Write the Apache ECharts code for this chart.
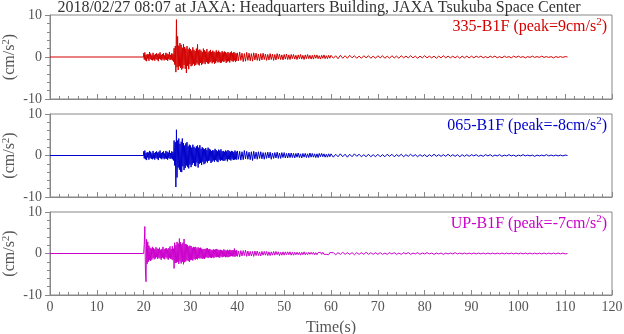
<!DOCTYPE html>
<html>
<head>
<meta charset="utf-8">
<script src="https://cdn.jsdelivr.net/npm/echarts@6/dist/echarts.min.js"></script>
<style>
  html, body { margin: 0; padding: 0; background: #fff; }
  #chart { width: 624px; height: 334px; }
</style>
</head>
<body>
<div id="chart"></div>
<script>
// Acceleration records, three components at the B1F sensor.
// Quiet until 20 s; then samples every 0.125 s (20-40 s),
// every 0.25 s (40-60 s) and every 0.5 s (60 s to the end).
const quietEnd = 20;
const fineStep = 0.125;
const midStart = 40, midStep = 0.25;
const coarseStart = 60, coarseStep = 0.5;

const trace335Fine = [
  0.9,-0.6,1.1,-0.8,0.5,-1.0,0.7,-0.4,
  0.6,-0.9,1.2,-0.5,0.8,-0.7,0.4,-0.8,
  1.0,-0.6,0.5,-0.9,0.7,-0.5,0.9,-0.7,
  0.6,-1.0,0.8,-0.4,1.1,-0.6,0.5,-0.8,
  0.7,-0.5,0.9,-0.8,0.4,-0.6,1.0,-0.7,
  0.8,-0.9,0.6,-0.5,1.2,-0.7,0.5,-0.6,
  0.9,-0.8,0.7,-1.1,2.1,-1.8,2.6,-3.6,
  8.9,-2.4,4.9,-3.1,2.7,-2.2,3.3,-2.6,
  2.9,-3.0,2.2,-2.7,3.1,-1.9,2.4,-2.8,
  2.0,-3.8,2.6,-2.1,1.8,-2.9,2.2,-1.7,
  1.9,-2.2,1.5,-2.0,2.3,-1.6,1.7,-2.1,
  1.4,-1.9,2.0,-1.5,3.0,-1.8,1.6,-2.0,
  1.8,-1.4,1.5,-1.9,1.2,-1.6,2.0,-1.3,
  1.6,-1.7,1.3,-1.2,1.9,-1.5,1.1,-1.6,
  1.4,-1.3,1.7,-1.1,1.2,-1.5,1.5,-1.2,
  1.3,-1.6,1.1,-1.4,1.6,-1.0,1.2,-1.3,
  1.5,-1.1,1.2,-1.4,1.0,-1.3,1.4,-1.0,
  1.1,-1.2,1.3,-0.9,1.2,-1.4,0.9,-1.1,
  1.2,-1.0,0.9,-1.3,1.1,-0.8,1.3,-1.0,
  0.9,-1.1,1.2,-0.8,1.0,-1.2,0.8,-0.9
];
const trace335Mid = [
  1.0,-0.9,1.2,-0.8, 0.9,-1.1,0.8,-1.0, 1.1,-0.8,0.9,-0.9, 0.8,-1.0,1.0,-0.7,
  0.9,-0.8,0.7,-0.9, 0.8,-0.7,0.9,-0.6, 0.7,-0.8,0.6,-0.7, 0.8,-0.6,0.7,-0.8,
  0.6,-0.7,0.8,-0.5, 0.7,-0.6,0.5,-0.7, 0.6,-0.5,0.7,-0.6, 0.5,-0.6,0.6,-0.4,
  0.6,-0.5,0.4,-0.6, 0.5,-0.4,0.6,-0.5, 0.4,-0.6,0.5,-0.4, 0.6,-0.4,0.4,-0.5,
  0.4,-0.5,0.5,-0.3, 0.5,-0.4,0.3,-0.5, 0.4,-0.3,0.5,-0.4, 0.3,-0.4,0.4,-0.3
];
const trace335Coarse = [
  0.4,-0.3,0.3,-0.4,0.4,-0.3,0.3,-0.3,0.4,-0.2,0.3,-0.3,0.2,-0.3,0.3,-0.2,0.3,-0.3,0.2,-0.3,
  0.3,-0.2,0.3,-0.3,0.2,-0.3,0.3,-0.2,0.2,-0.3,0.3,-0.2,0.2,-0.2,0.3,-0.2,0.2,-0.3,0.2,-0.2,
  0.3,-0.2,0.2,-0.2,0.2,-0.3,0.2,-0.2,0.3,-0.2,0.2,-0.2,0.2,-0.2,0.2,-0.3,0.2,-0.2,0.2,-0.2,
  0.2,-0.2,0.2,-0.1,0.2,-0.2,0.1,-0.2,0.2,-0.1,0.2,-0.2,0.1,-0.2,0.2,-0.1,0.1,-0.2,0.2,-0.1,
  0.2,-0.1,0.1,-0.2,0.1,-0.1,0.2,-0.1,0.1,-0.1,0.2,-0.1,0.1,-0.1,0.1,-0.2,0.1,-0.1,0.1,-0.1,0.1,0
];

const trace065Fine = [
  1.0,-0.7,1.2,-0.9,0.6,-1.1,0.8,-0.5,
  0.7,-1.0,1.1,-0.6,0.9,-0.8,0.5,-0.9,
  1.1,-0.7,0.6,-1.0,0.8,-0.6,1.0,-0.8,
  0.7,-1.1,0.9,-0.5,1.2,-0.7,0.6,-0.9,
  0.8,-0.6,1.0,-0.9,0.5,-0.7,1.1,-0.8,
  0.9,-1.0,0.7,-0.6,1.2,-0.8,0.6,-0.7,
  1.0,-0.9,0.8,-1.2,3.6,-2.4,3.2,-7.6,
  6.2,-5.3,3.6,-2.9,4.1,-3.4,2.8,-3.9,
  3.3,-4.0,4.1,-2.6,3.0,-3.5,2.4,-3.0,
  2.9,-2.4,3.2,-2.8,2.2,-3.1,2.6,-2.2,
  2.4,-2.8,1.9,-2.2,2.6,-1.8,2.1,-2.5,
  1.8,-2.6,2.2,-1.7,2.4,-2.9,1.9,-2.0,
  2.5,-1.8,1.6,-2.3,2.0,-1.5,1.7,-2.1,
  1.5,-1.9,1.8,-1.4,1.3,-1.7,1.9,-1.3,
  1.6,-1.2,1.4,-1.8,1.1,-1.5,1.3,-1.2,
  1.2,-1.5,1.6,-1.1,1.3,-1.4,1.0,-1.6,
  1.4,-1.0,1.2,-1.3,1.5,-1.1,1.0,-1.2,
  1.1,-1.3,0.9,-1.2,1.2,-0.9,1.0,-1.4,
  1.3,-0.9,1.1,-1.0,0.9,-1.2,1.1,-0.8,
  1.0,-1.1,0.8,-1.0,1.2,-0.9,0.9,-1.0
];
const trace065Mid = [
  1.1,-0.9,1.0,-1.1, 0.9,-1.0,1.2,-0.8, 1.0,-0.9,0.8,-1.0, 0.9,-1.2,1.0,-0.8,
  0.8,-0.9,0.9,-0.7, 0.9,-0.8,0.7,-0.9, 0.7,-0.7,0.8,-0.6, 0.8,-0.9,0.6,-0.7,
  0.7,-0.6,0.8,-0.7, 0.6,-0.7,0.7,-0.5, 0.7,-0.6,0.5,-0.6, 0.6,-0.5,0.6,-0.5,
  0.5,-0.6,0.5,-0.4, 0.6,-0.5,0.4,-0.6, 0.5,-0.4,0.5,-0.5, 0.4,-0.5,0.6,-0.4,
  0.5,-0.4,0.4,-0.5, 0.4,-0.5,0.5,-0.3, 0.5,-0.3,0.4,-0.4, 0.3,-0.4,0.4,-0.3
];
const trace065Coarse = [
  0.4,-0.4,0.3,-0.3,0.4,-0.3,0.3,-0.4,0.3,-0.3,0.4,-0.2,0.3,-0.3,0.2,-0.3,0.3,-0.3,0.2,-0.3,
  0.3,-0.3,0.2,-0.3,0.3,-0.2,0.3,-0.3,0.2,-0.2,0.3,-0.3,0.2,-0.2,0.3,-0.2,0.2,-0.3,0.2,-0.2,
  0.2,-0.3,0.2,-0.2,0.3,-0.2,0.2,-0.2,0.2,-0.2,0.3,-0.2,0.2,-0.2,0.2,-0.3,0.2,-0.2,0.2,-0.2,
  0.2,-0.1,0.2,-0.2,0.1,-0.2,0.2,-0.1,0.2,-0.2,0.1,-0.1,0.2,-0.2,0.1,-0.1,0.2,-0.1,0.1,-0.2,
  0.1,-0.1,0.2,-0.1,0.1,-0.1,0.1,-0.2,0.1,-0.1,0.1,-0.1,0.2,-0.1,0.1,-0.1,0.1,-0.1,0.1,-0.1,0.1,0
];

const traceUpFine = [
  0.4,2.2,6.5,-4.0,-6.8,3.4,-2.5,2.8,
  -2.0,1.9,-1.6,1.4,-1.8,1.2,-1.5,1.6,
  -1.1,1.3,-1.4,1.0,-1.2,1.5,-0.9,1.2,
  -1.3,1.1,-1.0,1.4,-1.2,0.9,-1.5,1.1,
  -1.0,1.6,-1.2,1.0,-1.4,1.2,-0.9,1.3,
  -1.2,1.0,-1.5,1.3,-1.1,1.7,-1.3,1.1,
  -1.4,1.8,-1.6,1.2,-3.6,2.6,-2.3,2.0,
  -2.2,2.8,-2.0,2.4,-2.5,3.6,-1.9,2.7,
  -2.4,2.2,-2.0,2.6,-2.6,3.5,-2.1,2.3,
  -1.9,2.2,-1.6,2.0,-1.8,1.7,-2.0,1.9,
  -1.6,1.8,-1.5,1.4,-1.7,1.6,-1.3,1.5,
  -1.5,1.6,-1.3,1.2,-1.4,1.5,-1.1,1.3,
  -1.2,1.4,-1.1,1.2,-1.3,1.0,-1.2,1.1,
  -1.3,1.1,-1.0,1.2,-0.9,1.3,-1.1,1.0,
  -0.9,1.1,-1.0,0.9,-1.1,0.8,-0.9,1.0,
  -1.1,0.9,-0.8,1.0,-0.9,1.1,-0.8,0.9,
  -0.9,0.8,-1.0,0.9,-0.7,0.8,-0.9,0.7,
  -0.8,1.0,-0.7,0.8,-0.9,0.7,-0.8,0.9,
  -0.9,0.7,-0.8,0.9,-0.7,0.8,-0.6,0.8,
  -0.7,0.8,-0.7,1.2,-0.8,0.7,-0.6,0.8
];
const traceUpMid = [
  -0.7,0.6,-0.8,0.7, -0.6,0.7,-0.5,0.8, -0.7,0.6,-0.6,0.5, -0.6,0.5,-0.7,0.6,
  -0.5,0.6,-0.5,0.4, -0.6,0.5,-0.4,0.5, -0.4,0.5,-0.5,0.4, -0.5,0.4,-0.4,0.5,
  -0.4,0.5,-0.3,0.4, -0.5,0.3,-0.4,0.4, -0.4,0.4,-0.3,0.4, -0.3,0.4,-0.4,0.3,
  -0.4,0.3,-0.3,0.3, -0.3,0.3,-0.4,0.3, -0.3,0.4,-0.3,0.2, -0.3,0.3,-0.2,0.3,
  -0.2,0.3,-0.3,0.2, -0.3,0.2,-0.2,0.3, -0.2,0.3,-0.2,0.2, -0.2,0.2,-0.3,0.2
];
const traceUpCoarse = [
  -0.2,0.2,-0.3,0.2,-0.2,0.3,-0.2,0.2,-0.2,0.2,-0.3,0.2,-0.2,0.2,-0.2,0.3,-0.2,0.2,-0.2,0.2,
  -0.2,0.2,-0.2,0.1,-0.2,0.2,-0.1,0.2,-0.2,0.1,-0.2,0.2,-0.1,0.2,-0.2,0.1,-0.1,0.2,-0.2,0.1,
  -0.1,0.2,-0.1,0.1,-0.2,0.1,-0.1,0.1,-0.2,0.1,-0.1,0.1,-0.1,0.2,-0.1,0.1,-0.1,0.1,-0.1,0.1,
  -0.1,0.1,-0.1,0.1,-0.1,0.1,-0.1,0.1,-0.1,0.1,-0.1,0.1,-0.1,0.1,-0.1,0.1,-0.1,0.1,-0.1,0.1,
  -0.1,0.1,-0.1,0.1,-0.1,0.1,-0.1,0.1,-0.1,0.1,-0.1,0.1,-0.1,0.1,-0.1,0.1,-0.1,0.1,-0.1,0.1,-0.1,0
];

const channelNames = ['335-B1F', '065-B1F', 'UP-B1F'];
const channelPeaks = ['9', '-8', '-7'];
const channelColors = ['#d40000', '#0000cc', '#cc00cc'];
const channelTraces = [
  [trace335Fine, trace335Mid, trace335Coarse],
  [trace065Fine, trace065Mid, trace065Coarse],
  [traceUpFine, traceUpMid, traceUpCoarse]
];

const titleText = '2018/02/27 08:07 at JAXA: Headquarters Building, JAXA Tsukuba Space Center';
const unitText = '(cm/s{sup|2})';
const xTicks = [0, 10, 20, 30, 40, 50, 60, 70, 80, 90, 100, 110, 120];
const yTicks = [-10, 0, 10];

function toPoints(fine, mid, coarse) {
  const pts = [[0, 0], [quietEnd, 0]];
  fine.forEach((v, i) => pts.push([quietEnd + i * fineStep, v]));
  mid.forEach((v, i) => pts.push([midStart + i * midStep, v]));
  coarse.forEach((v, i) => pts.push([coarseStart + i * coarseStep, v]));
  return pts;
}

const FONT = '"Liberation Serif", "DejaVu Serif", serif';
const grey = '#555';
const axisGrey = '#888';
const panelTops = [15, 114, 212];
const panelHeights = [84, 83, 83];

const grids = [], xAxes = [], yAxes = [], series = [], titles = [], unitLabels = [];

titles.push({
  text: titleText, left: 319, textAlign: 'center', top: 0, padding: 0,
  textStyle: { fontFamily: FONT, fontSize: 16, fontWeight: 'normal', color: '#333' }
});

channelNames.forEach((name, k) => {
  grids.push({
    left: 50, right: 12, top: panelTops[k], height: panelHeights[k],
    containLabel: false, outerBoundsMode: 'none',
    show: true, borderColor: axisGrey, borderWidth: 1, backgroundColor: 'transparent'
  });
  const last = k === channelNames.length - 1;
  xAxes.push({
    type: 'value', gridIndex: k, min: xTicks[0], max: xTicks[xTicks.length - 1],
    interval: xTicks[1] - xTicks[0],
    name: last ? 'Time(s)' : '', nameLocation: 'middle', nameGap: 25,
    nameTextStyle: { fontFamily: FONT, fontSize: 16, color: grey },
    axisLine: { show: true, onZero: false, lineStyle: { color: axisGrey } },
    axisTick: { show: true, inside: true, length: 5, lineStyle: { color: axisGrey } },
    minorTick: { show: true, splitNumber: 5, length: 3, lineStyle: { color: axisGrey } },
    axisLabel: { show: last, fontFamily: FONT, fontSize: 14, color: grey, margin: 5 },
    splitLine: { show: false }
  });
  yAxes.push({
    type: 'value', gridIndex: k, min: yTicks[0], max: yTicks[yTicks.length - 1],
    interval: yTicks[1] - yTicks[0],
    axisLine: { show: true, lineStyle: { color: axisGrey } },
    axisTick: { show: true, inside: false, length: 5, lineStyle: { color: axisGrey } },
    minorTick: { show: true, splitNumber: 5, length: 3, lineStyle: { color: axisGrey } },
    axisLabel: { fontFamily: FONT, fontSize: 14, color: grey, margin: 8 },
    splitLine: { show: false }
  });
  series.push({
    type: 'line', xAxisIndex: k, yAxisIndex: k,
    data: toPoints(channelTraces[k][0], channelTraces[k][1], channelTraces[k][2]),
    showSymbol: false, symbol: 'none', sampling: null,
    lineStyle: { color: channelColors[k], width: 1 },
    emphasis: { disabled: true }
  });
  titles.push({
    text: name + ' (peak=' + channelPeaks[k] + 'cm/s{sup|2})',
    right: 17, top: panelTops[k] + 2, padding: 0,
    textStyle: {
      fontFamily: FONT, fontSize: 16, fontWeight: 'normal', color: channelColors[k],
      rich: {
        sup: { fontFamily: FONT, fontSize: 11, color: channelColors[k], verticalAlign: 'top', padding: [0, 0, 8, 0] }
      }
    }
  });
  // unit label, rotated, centred on the panel's left side
  unitLabels.push({
    type: 'text', x: 10, y: panelTops[k] + panelHeights[k] / 2, rotation: Math.PI / 2,
    silent: true,
    style: {
      text: unitText, align: 'center', verticalAlign: 'middle',
      fontFamily: FONT, fontSize: 16, fill: grey,
      rich: { sup: { fontFamily: FONT, fontSize: 11, fill: grey, verticalAlign: 'top', padding: [0, 0, 7, 0] } }
    }
  });
});

const chart = echarts.init(document.getElementById('chart'), null, { renderer: 'canvas' });
chart.setOption({
  animation: false,
  backgroundColor: '#fff',
  title: titles,
  grid: grids,
  xAxis: xAxes,
  yAxis: yAxes,
  series: series,
  graphic: unitLabels
});
</script>
</body>
</html>
